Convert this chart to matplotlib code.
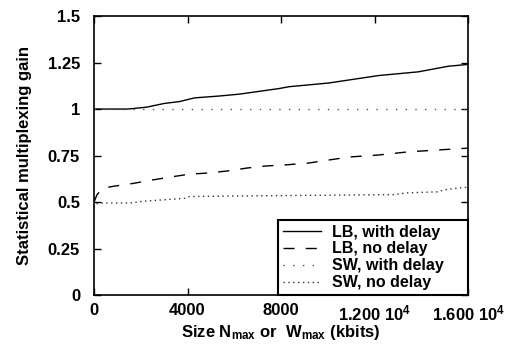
import matplotlib
matplotlib.use("Agg")
import matplotlib.pyplot as plt

plt.rcParams['font.family'] = ['Liberation Sans', 'DejaVu Sans']
plt.rcParams['mathtext.fontset'] = 'custom'
plt.rcParams['mathtext.rm'] = 'Liberation Sans:bold'
plt.rcParams['mathtext.it'] = 'Liberation Sans:bold'
plt.rcParams['mathtext.bf'] = 'Liberation Sans:bold'
plt.rcParams['font.weight'] = 'bold'
plt.rcParams['axes.labelweight'] = 'bold'

# data (x in kbits)
lb_delay_x = [0, 1450, 2250, 3000, 3650, 4300, 5360, 6210, 7060, 7910, 8340,
              10040, 12170, 13870, 15150, 16000]
lb_delay_y = [1.0, 1.0, 1.01, 1.03, 1.04, 1.06, 1.07, 1.08, 1.095, 1.11, 1.12,
              1.14, 1.18, 1.20, 1.23, 1.24]

lb_nodelay_x = [0, 130, 380, 890, 1660, 2470, 3230, 4085, 4850, 5700, 6550,
                7360, 8210, 9190, 10040, 10890, 12170, 13450, 14720, 16000]
lb_nodelay_y = [0.50, 0.54, 0.575, 0.586, 0.60, 0.618, 0.634, 0.65, 0.656,
                0.667, 0.683, 0.694, 0.70, 0.71, 0.726, 0.742, 0.753, 0.77,
                0.78, 0.79]

sw_delay_x = [0, 16000]
sw_delay_y = [1.0, 1.0]

sw_nodelay_x = [0, 85, 255, 1530, 2170, 3870, 4085, 8130, 12810, 13450, 14720,
                14940, 15570, 16000]
sw_nodelay_y = [0.47, 0.49, 0.495, 0.495, 0.505, 0.52, 0.53, 0.535, 0.54,
                0.55, 0.555, 0.565, 0.575, 0.58]

xticks = [0, 4000, 8000, 12000, 16000]
xticklabels = ['0', '4000', '8000', '1.200 10$^4$', '1.600 10$^4$']
yticks = [0, 0.25, 0.5, 0.75, 1, 1.25, 1.5]
yticklabels = ['0', '0.25', '0.5', '0.75', '1', '1.25', '1.5']

fig = plt.figure(figsize=(5.07, 3.48), dpi=100)
ax = fig.add_axes([0.1854, 0.152, 0.738, 0.802])

ax.plot(lb_delay_x, lb_delay_y, color='black', lw=1.0, label='LB, with delay')
ax.plot(lb_nodelay_x, lb_nodelay_y, color='black', lw=1.0,
        dashes=(8, 8), label='LB, no delay')
ax.plot(sw_delay_x, sw_delay_y, color='#555555', lw=1.0,
        dashes=(1, 6), label='SW, with delay')
ax.plot(sw_nodelay_x, sw_nodelay_y, color='#333333', lw=1.0,
        dashes=(1, 2.5), label='SW, no delay')

ax.set_xlim(0, 16000)
ax.set_ylim(0, 1.5)
ax.set_xticks(xticks)
ax.set_xticklabels(xticklabels)
ax.set_yticks(yticks)
ax.set_yticklabels(yticklabels)
ax.tick_params(direction='in', length=5, width=1, top=True, right=True,
               labelsize=12)
ax.tick_params(axis='y', pad=10)
ax.tick_params(axis='x', pad=6)
for s in ax.spines.values():
    s.set_linewidth(1.2)

ax.set_ylabel('Statistical multiplexing gain', fontsize=12, labelpad=11)
ax.set_xlabel(r'Size N$_{\mathrm{max}}$ or  W$_{\mathrm{max}}$ (kbits)',
              fontsize=12, labelpad=0)

# legend box spans roughly the right half of the axes, text left aligned
leg = ax.legend(loc='lower left', bbox_to_anchor=(0.492, 0, 0.508, 0.3),
                mode='expand', borderaxespad=0,
                fontsize=11.5, handlelength=2.4, handletextpad=0.7,
                labelspacing=0.12, borderpad=0.3, fancybox=False,
                framealpha=1)
leg.get_frame().set_edgecolor('black')
leg.get_frame().set_linewidth(1.5)

fig.savefig('out.png', dpi=100)
